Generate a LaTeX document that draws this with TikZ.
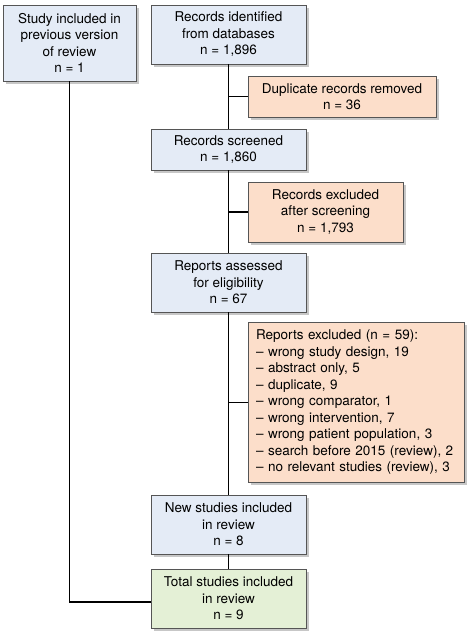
\documentclass[tikz,border=0pt]{standalone}
\usepackage{fontspec}
\setmainfont{TeX Gyre Heros}
\usetikzlibrary{shadows}

\definecolor{boxblue}{RGB}{228,235,246}
\definecolor{boxorange}{RGB}{252,222,202}
\definecolor{boxgreen}{RGB}{228,240,214}
\definecolor{boxline}{RGB}{85,85,85}

\tikzset{
  box/.style={draw=boxline, line width=0.9pt, align=center, inner sep=2pt,
    font=\fontsize{13.5}{16.5}\selectfont,
    drop shadow={shadow xshift=2.5pt, shadow yshift=-2.5pt, fill=black!40, opacity=0.55}},
  bluebox/.style={box, fill=boxblue},
  orangebox/.style={box, fill=boxorange},
  greenbox/.style={box, fill=boxgreen},
  link/.style={line width=1.8pt, black}
}

\begin{document}
\begin{tikzpicture}[x=1pt, y=-1pt]
    \useasboundingbox (0,0) rectangle (476,640);

    % main column
    \node[bluebox, minimum width=155pt, minimum height=59pt] (ident) at (228.5,34.5)
        {Records identified\\from databases\\n = 1,896};
    \node[bluebox, minimum width=155pt, minimum height=41pt] (screen) at (228.5,149.5)
        {Records screened\\n = 1,860};
    \node[bluebox, minimum width=155pt, minimum height=59pt] (assess) at (228.5,282.5)
        {Reports assessed\\for eligibility\\n = 67};
    \node[bluebox, minimum width=155pt, minimum height=59pt] (newst) at (228.5,524.5)
        {New studies included\\in review\\n = 8};
    \node[greenbox, minimum width=155pt, minimum height=59pt] (total) at (228.5,598.5)
        {Total studies included\\in review\\n = 9};

    % previous review
    \node[bluebox, minimum width=133pt, minimum height=76pt] (prev) at (69.5,43)
        {Study included in\\previous version\\of review\\n = 1};

    % exclusions
    \node[orangebox, minimum width=188pt, minimum height=41pt] (dup) at (342,96.5)
        {Duplicate records removed\\n = 36};
    \node[orangebox, minimum width=155pt, minimum height=60pt] (exscr) at (325.5,212)
        {Records excluded\\after screening\\n = 1,793};
    \node[orangebox, align=left, text width=200pt, minimum height=159pt, inner sep=8pt] (exrep) at (356,402.5)
        {Reports excluded (n = 59):\\
         -- wrong study design, 19\\
         -- abstract only, 5\\
         -- duplicate, 9\\
         -- wrong comparator, 1\\
         -- wrong intervention, 7\\
         -- wrong patient population, 3\\
         -- search before 2015 (review), 2\\
         -- no relevant studies (review), 3};

    % connectors
    \draw[link] (ident) -- (screen);
    \draw[link] (screen) -- (assess);
    \draw[link] (assess) -- (newst);
    \draw[link] (newst) -- (total);
    \draw[link] (dup.west -| ident.south) -- (dup.west);
    \draw[link] (exscr.west -| ident.south) -- (exscr.west);
    \draw[link] (exrep.west -| ident.south) -- (exrep.west);
    \draw[link] (prev.south) |- ([yshift=-3.5pt]total.west);
\end{tikzpicture}
\end{document}
